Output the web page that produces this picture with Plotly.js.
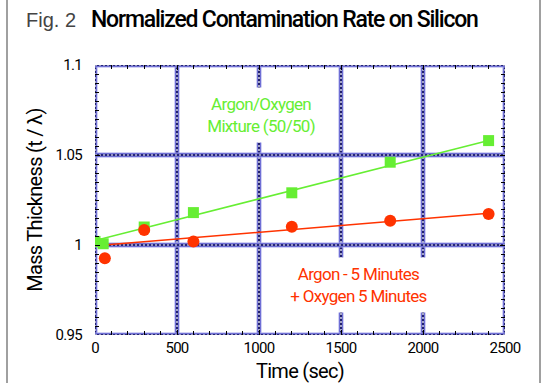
<!DOCTYPE html>
<html>
<head>
<meta charset="utf-8">
<script src="https://cdn.plot.ly/plotly-3.0.1.min.js"></script>
<style>
  html, body { margin: 0; padding: 0; background: #fff; }
  #wrap { position: relative; width: 544px; height: 383px; }
  #chart { width: 544px; height: 383px; }
  #chart text { letter-spacing: -0.7px; }
  .edge { position: absolute; top: 0; width: 2px; height: 383px; background: #a0a0a0; }
</style>
</head>
<body>
<div id="wrap">
  <div id="chart"></div>
  <div class="edge" style="left:6px"></div>
  <div class="edge" style="left:539px"></div>
</div>
<script>
// ---- data ----
const timeGreen  = [0, 50, 300, 600, 1200, 1800, 2400];
const thickGreen = [1.0020, 1.0007, 1.0100, 1.0180, 1.0290, 1.0460, 1.0580];
const timeRed    = [60, 300, 600, 1200, 1800, 2400];
const thickRed   = [0.9926, 1.0083, 1.0020, 1.0102, 1.0135, 1.0172];
const fitX       = [0, 2400];
const fitGreen   = [1.0025, 1.0580];
const fitRed     = [0.9996, 1.0176];
const xGrid      = [0, 500, 1000, 1500, 2000, 2500];
const yGrid      = [0.95, 1.0, 1.05, 1.1];
const yTickText  = ['0.95', '1', '1.05', '1.1'];
const greenLabel = 'Argon/Oxygen<br>Mixture (50/50)';
const redLabel   = 'Argon - 5 Minutes<br>+ Oxygen 5 Minutes';

const NARROW = 'Roboto, "Liberation Sans", Arial, sans-serif';
const GREEN = '#66ee33';
const RED = '#ff3300';

const xr = [0, 2500], yr = [0.95, 1.1];
const shapes = [];
function gridLine(x0, y0, x1, y1) {
  const base = {type:'line', xref:'x', yref:'y', x0, y0, x1, y1, layer:'below'};
  shapes.push(Object.assign({}, base, {line:{color:'#a6a6ea', width:5}}));
  shapes.push(Object.assign({}, base, {line:{color:'#3838c0', width:3}}));
  shapes.push(Object.assign({}, base, {line:{color:'#15153a', width:1.2}}));
  shapes.push(Object.assign({}, base, {line:{color:'#ffffff', width:1.2, dash:'2px,2px'}}));
}
xGrid.forEach(v => gridLine(v, yr[0], v, yr[1]));
yGrid.forEach(v => gridLine(xr[0], v, xr[1], v));

const traces = [
  {x: fitX, y: fitGreen, mode:'lines', line:{color:GREEN, width:1.5}, hoverinfo:'skip'},
  {x: fitX, y: fitRed, mode:'lines', line:{color:RED, width:1.5}, hoverinfo:'skip'},
  {x: timeGreen, y: thickGreen, mode:'markers', marker:{symbol:'square', size:11, color:GREEN}},
  {x: timeRed, y: thickRed, mode:'markers', marker:{symbol:'circle', size:12, color:RED}}
];

const layout = {
  width: 544, height: 383,
  margin: {l:95, r:39, t:65, b:48},
  paper_bgcolor: '#fff', plot_bgcolor: '#fff',
  showlegend: false,
  font: {family: NARROW, color: '#000'},
  xaxis: {
    range: xr, tickvals: xGrid, ticktext: xGrid.map(String),
    showgrid: false, zeroline: false, showline: false,
    ticks: 'inside', ticklen: 5, tickcolor: '#000', mirror: 'ticks',
    minor: {ticks:'inside', dtick:100, ticklen:4, tickcolor:'#000', showgrid:false},
    tickfont: {family: NARROW, size: 15, color:'#000'},
    ticklabelstandoff: 2,
    title: {text: 'Time (sec)', font:{family: NARROW, size: 20, color:'#000'}, standoff: 7}
  },
  yaxis: {
    range: yr, tickvals: yGrid, ticktext: yTickText,
    showgrid: false, zeroline: false, showline: false,
    ticks: 'inside', ticklen: 5, tickcolor: '#000', mirror: 'ticks',
    minor: {ticks:'inside', dtick:0.005, ticklen:4, tickcolor:'#000', showgrid:false},
    tickfont: {family: NARROW, size: 15, color:'#000'},
    ticklabelstandoff: 12,
    title: {text: 'Mass Thickness (t / λ)', font:{family: NARROW, size: 20, color:'#000'}, standoff: 4}
  },
  shapes: shapes,
  annotations: [
    {xref:'paper', yref:'paper', x:-0.173, y:1.167, xanchor:'left', yanchor:'middle',
     text:'<span style="letter-spacing:0px">Fig. 2</span>', showarrow:false,
     font:{family:'"Liberation Sans", Arial, sans-serif', size:20, color:'#444'}},
    {xref:'paper', yref:'paper', x:-0.0145, y:1.167, xanchor:'left', yanchor:'middle',
     text:'<span style="letter-spacing:-1.2px">Normalized Contamination Rate on Silicon</span>', showarrow:false,
     font:{family: NARROW, size: 23, color:'#000', weight: 500}},
    {xref:'x', yref:'y', x:1015, y:1.0724, text: greenLabel, showarrow:false,
     font:{family: NARROW, size: 17, color: GREEN}, bgcolor:'#fff', borderpad:6},
    {xref:'x', yref:'y', x:1605, y:0.978, text: redLabel, showarrow:false,
     font:{family: NARROW, size: 17, color: RED}, bgcolor:'#fff', borderpad:6}
  ]
};

Plotly.newPlot('chart', traces, layout, {staticPlot:true, displayModeBar:false});
</script>
</body>
</html>
